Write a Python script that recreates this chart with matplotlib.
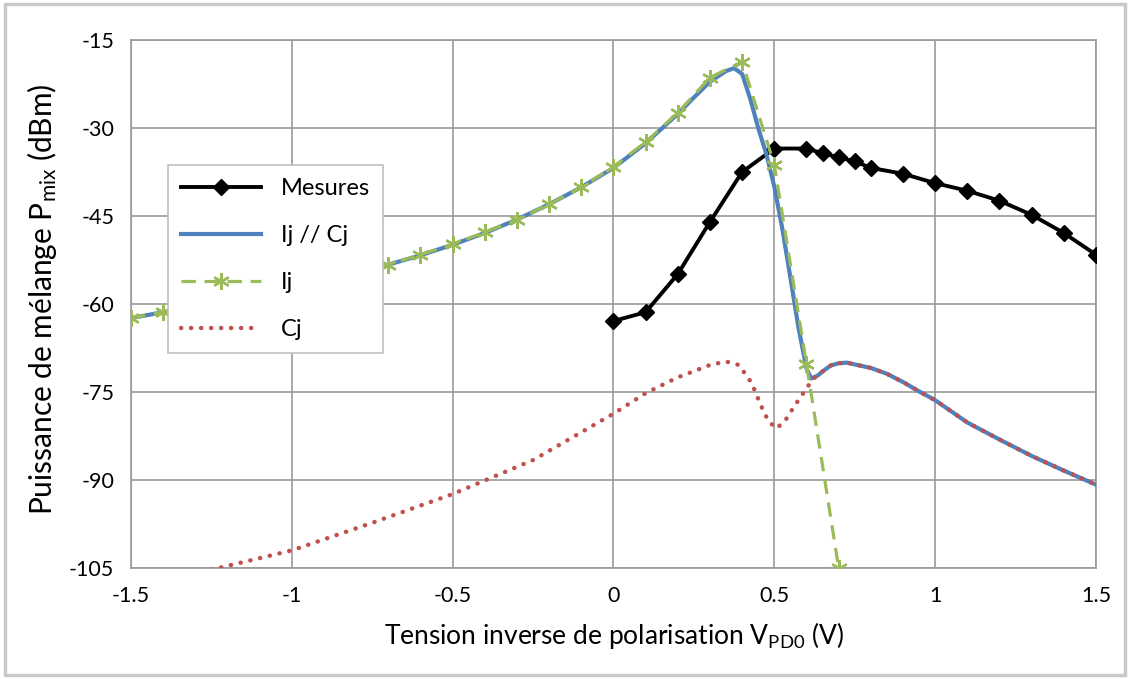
import numpy as np
import matplotlib
matplotlib.use("Agg")
import matplotlib.pyplot as plt
from matplotlib.patches import Rectangle

plt.rcParams['font.family'] = ['Lato', 'DejaVu Sans']
plt.rcParams['mathtext.fontset'] = 'custom'
plt.rcParams['mathtext.rm'] = 'Lato'
plt.rcParams['axes.unicode_minus'] = False

# Mesures
x_mes = [0, 0.1, 0.2, 0.3, 0.4, 0.5, 0.6, 0.65, 0.7, 0.75, 0.8, 0.9, 1.0, 1.1, 1.2, 1.3, 1.4, 1.5]
y_mes = [-62.9, -61.4, -54.9, -46.0, -37.5, -33.5, -33.5, -34.3, -35.0, -35.7, -36.8, -37.8,
         -39.4, -40.7, -42.4, -44.8, -47.9, -51.6]

# Ij // Cj
x_par = [-1.5, -1.4, -1.3, -1.2, -1.1, -1.0, -0.9, -0.8, -0.7, -0.6, -0.5, -0.4, -0.3, -0.2,
         -0.1, 0, 0.1, 0.2, 0.25, 0.3, 0.35, 0.375, 0.4, 0.425, 0.45, 0.475, 0.5, 0.525, 0.55,
         0.575, 0.6, 0.615, 0.635, 0.65, 0.675, 0.7, 0.725, 0.75, 0.8, 0.85, 0.9, 0.95, 1.0,
         1.1, 1.2, 1.3, 1.4, 1.5]
y_par = [-62.4, -61.4, -60.3, -59.2, -58.1, -57.0, -55.8, -54.6, -53.3, -51.7, -49.9, -47.9,
         -45.6, -43.0, -40.1, -36.8, -32.6, -27.6, -24.8, -22.1, -20.3, -19.8, -20.8, -25.0,
         -30.0, -34.4, -40.0, -47.2, -55.5, -64.0, -71.0, -72.7, -72.2, -71.5, -70.5, -70.1,
         -70.0, -70.3, -70.9, -71.9, -73.3, -74.9, -76.4, -80.2, -83.1, -85.9, -88.4, -90.8]

# Ij
x_ij = [-1.5, -1.4, -1.3, -1.2, -1.1, -1.0, -0.9, -0.8, -0.7, -0.6, -0.5, -0.4, -0.3, -0.2,
        -0.1, 0, 0.1, 0.2, 0.3, 0.4, 0.5, 0.6, 0.7]
y_ij = [-62.4, -61.4, -60.3, -59.2, -58.1, -57.0, -55.8, -54.6, -53.3, -51.6, -49.8, -47.8,
        -45.6, -43.0, -40.1, -36.6, -32.4, -27.4, -21.4, -18.7, -36.3, -70.2, -105.0]

# Cj
x_cj = [-1.25, -1.0, -0.75, -0.5, -0.25, 0, 0.1, 0.2, 0.3, 0.35, 0.39, 0.43, 0.455, 0.48,
        0.505, 0.53, 0.565, 0.6, 0.62, 0.65, 0.675, 0.7, 0.725, 0.75, 0.8, 0.85, 0.9, 0.95,
        1.0, 1.1, 1.2, 1.3, 1.4, 1.5]
y_cj = [-105.3, -102.0, -97.3, -92.4, -86.6, -78.7, -75.2, -72.5, -70.4, -69.8, -70.4, -73.5,
        -76.9, -79.8, -81.2, -80.2, -77.2, -74.4, -72.8, -71.5, -70.5, -70.1, -70.0, -70.3,
        -70.9, -71.9, -73.3, -74.9, -76.4, -80.2, -83.1, -85.9, -88.4, -90.8]

xticks = [-1.5, -1, -0.5, 0, 0.5, 1, 1.5]
xtick_labels = ['-1.5', '-1', '-0.5', '0', '0.5', '1', '1.5']
yticks = [-105, -90, -75, -60, -45, -30, -15]

fig = plt.figure(figsize=(11.3, 6.79), dpi=100)
fig.patches.append(Rectangle((0.004, 0.006), 0.992, 0.988, transform=fig.transFigure,
                             fill=False, edgecolor='#c8c8c8', linewidth=2.5))
ax = fig.add_axes([0.1159, 0.1635, 0.854, 0.7776])

grid_c = '#9a9a9a'
ax.plot(x_mes, y_mes, color='black', lw=2.8, marker='D', markersize=8.5, label='Mesures',
        zorder=3)
ax.plot(x_par, y_par, color='#4F81BD', lw=3.0, label='Ij // Cj', zorder=4)
ax.plot(x_ij, y_ij, color='#9BBB59', lw=2.3, ls=(0, (4.5, 2.7)), marker=(6, 2, 0),
        markersize=12, markeredgewidth=1.7, label='Ij', zorder=5)
ax.plot(x_cj, y_cj, color='#C0504D', lw=3.2, ls=(0, (0.05, 2.2)), dash_capstyle='round',
        label='Cj', zorder=6)

ax.set_xlim(-1.5, 1.5)
ax.set_ylim(-105, -15)
ax.set_xticks(xticks)
ax.set_xticklabels(xtick_labels)
ax.set_yticks(yticks)
ax.grid(True, color=grid_c, lw=1.2)
ax.set_axisbelow(True)
for s in ax.spines.values():
    s.set_color(grid_c)
    s.set_linewidth(1.2)
ax.tick_params(length=0, labelsize=15.5)
ax.tick_params(axis='x', pad=13)
ax.tick_params(axis='y', pad=12)

ax.set_xlabel(r'Tension inverse de polarisation $\mathregular{V_{PD0}}$ (V)', fontsize=19)
ax.set_ylabel(r'Puissance de mélange $\mathregular{P_{mix}}$ (dBm)', fontsize=21.5)
ax.xaxis.set_label_coords(0.5, -0.127)
ax.xaxis.label.set_va('center')
ax.yaxis.set_label_coords(-0.092, 0.509)
ax.yaxis.label.set_va('center')

leg = ax.legend(loc='upper left', bbox_to_anchor=(0.038, 0.763), fontsize=17,
                handlelength=3.4, handletextpad=0.85, labelspacing=1.1, borderpad=0.55,
                borderaxespad=0, fancybox=False, framealpha=1, edgecolor='#c0c0c0')
leg.get_frame().set_linewidth(1.2)
leg.set_zorder(10)

fig.savefig('out.png', dpi=100)
